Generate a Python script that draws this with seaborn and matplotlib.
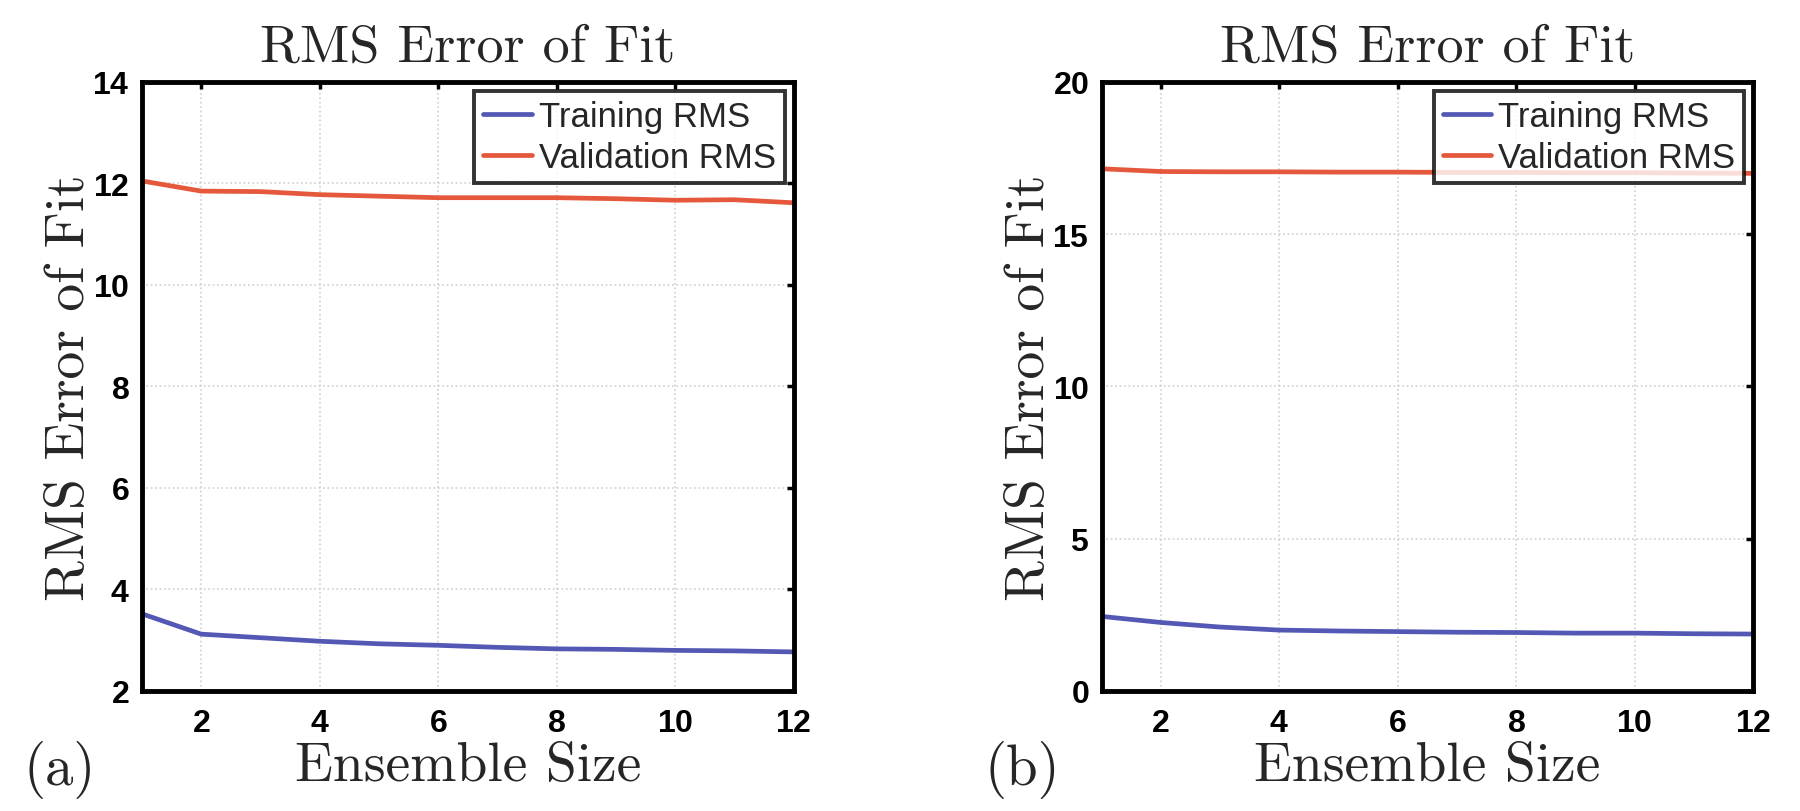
import numpy as np
import pandas as pd
import seaborn as sns
import matplotlib
matplotlib.use("Agg")
import matplotlib.pyplot as plt

# ensemble sizes shared by both panels
ensemble_size = [1, 2, 3, 4, 5, 6, 7, 8, 9, 10, 11, 12]

# panel (a)
train_a = [3.52, 3.12, 3.05, 2.98, 2.93, 2.90, 2.86, 2.83, 2.82, 2.80, 2.79, 2.77]
valid_a = [12.05, 11.85, 11.84, 11.78, 11.75, 11.72, 11.72, 11.72, 11.70, 11.67, 11.68, 11.62]

# panel (b)
train_b = [2.45, 2.25, 2.10, 2.00, 1.97, 1.95, 1.93, 1.92, 1.90, 1.90, 1.88, 1.87]
valid_b = [17.15, 17.06, 17.05, 17.05, 17.04, 17.04, 17.03, 17.03, 17.02, 17.02, 17.01, 17.00]

series_names = ["Training RMS", "Validation RMS"]
palette = {"Training RMS": "#5358b5", "Validation RMS": "#e5583b"}

panels = [
    dict(train=train_a, valid=valid_a, ylim=(2, 14), yticks=[2, 4, 6, 8, 10, 12, 14], tag="(a)"),
    dict(train=train_b, valid=valid_b, ylim=(0, 20), yticks=[0, 5, 10, 15, 20], tag="(b)"),
]

sns.set_theme(style="white")
serif = ["cmr10", "DejaVu Serif"]
sans = ["Liberation Sans", "DejaVu Sans"]
plt.rcParams["font.family"] = sans
plt.rcParams["axes.formatter.use_mathtext"] = True

fig, axes = plt.subplots(1, 2, figsize=(18, 8.12), dpi=100)
fig.subplots_adjust(left=0.0789, right=0.9739, bottom=0.1478, top=0.8978, wspace=0.4727)

for ax, p, tag_x in zip(axes, panels, [0.013, 0.547]):
    df = pd.DataFrame({
        "size": ensemble_size * 2,
        "rms": p["train"] + p["valid"],
        "series": [series_names[0]] * len(ensemble_size) + [series_names[1]] * len(ensemble_size),
    })
    sns.lineplot(data=df, x="size", y="rms", hue="series", palette=palette,
                 linewidth=3.4, ax=ax)

    ax.set_xlim(1, 12)
    ax.set_ylim(*p["ylim"])
    ax.set_xticks([2, 4, 6, 8, 10, 12])
    ax.set_yticks(p["yticks"])
    ax.grid(True, linestyle=":", color="#cfcfcf", linewidth=1.2)
    ax.tick_params(direction="in", length=5, width=2.5, top=True, right=True,
                   labelsize=23, colors="black")
    ax.tick_params(axis="x", pad=12)
    ax.tick_params(axis="y", pad=9)
    for lab in ax.get_xticklabels() + ax.get_yticklabels():
        lab.set_fontweight("bold")
    for s in ax.spines.values():
        s.set_color("black")
        s.set_linewidth(3.5)

    ax.set_title("RMS Error of Fit", fontsize=39, family=serif, pad=15)
    ax.set_xlabel("Ensemble Size", fontsize=40, family=serif, labelpad=3)
    ax.set_ylabel("RMS Error of Fit", fontsize=40, family=serif, labelpad=-2)

    leg = ax.legend(loc="upper right", fontsize=25, frameon=True, fancybox=False,
                    handlelength=1.4, handletextpad=0.2, borderpad=0.25,
                    borderaxespad=0.26, labelspacing=0.25)
    leg.get_frame().set_edgecolor("black")
    leg.get_frame().set_linewidth(2.8)
    for line in leg.get_lines():
        line.set_linewidth(3.4)

    fig.text(tag_x, 0.052, p["tag"], fontsize=41, family=serif, va="center")

fig.savefig("out.png", dpi=100)
